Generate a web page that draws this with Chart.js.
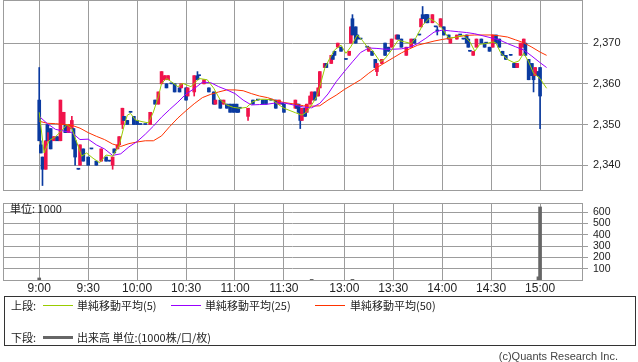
<!DOCTYPE html>
<html>
<head>
<meta charset="utf-8">
<title>intraday chart</title>
<script src="https://cdn.jsdelivr.net/npm/chart.js@4.4.1/dist/chart.umd.min.js"></script>
<style>
  body { margin: 0; background: #fff; }
  #page { position: relative; width: 638px; height: 362px; overflow: hidden; color: #222;
          font-family: "Noto Sans CJK JP", "Liberation Sans", sans-serif; }
  #priceChart { position: absolute; left: 0; top: 0; }
  #volChart { position: absolute; left: 0; top: 198px; }
  #unit { position: absolute; left: 10px; top: 201px; font-size: 11px; line-height: 14px; }
  #legend { position: absolute; left: 4px; top: 296px; width: 630px; height: 48px; border: 1px solid #333; }
  .lg { position: absolute; font-size: 11px; line-height: 14px; white-space: nowrap; }
  .ln { position: absolute; width: 30px; height: 1px; }
  #copy { position: absolute; right: 20px; top: 349px; font-size: 11px; line-height: 14px; color: #444;
          font-family: "Liberation Sans", sans-serif; }
</style>
</head>
<body>
<div id="page">
  <canvas id="priceChart" width="638" height="196"></canvas>
  <canvas id="volChart" width="638" height="100"></canvas>
  <div id="unit">単位: 1000</div>
  <div id="legend">
    <div class="lg" style="left:6px;top:1px">上段:</div>
    <div class="ln" style="left:38px;top:8px;background:#99cc00"></div>
    <div class="lg" style="left:72px;top:1px">単純移動平均(5)</div>
    <div class="ln" style="left:166px;top:8px;background:#9900ff"></div>
    <div class="lg" style="left:200px;top:1px">単純移動平均(25)</div>
    <div class="ln" style="left:310px;top:8px;background:#ff3300"></div>
    <div class="lg" style="left:345px;top:1px">単純移動平均(50)</div>
    <div class="lg" style="left:6px;top:33px">下段:</div>
    <div class="ln" style="left:38px;top:39px;height:3px;background:#666"></div>
    <div class="lg" style="left:72px;top:33px">出来高 単位:(1000株/口/枚)</div>
  </div>
  <div id="copy">(c)Quants Research Inc.</div>
</div>
<script>
// axis ticks
const tickTimes = ["9:00", "9:30", "10:00", "10:30", "11:00", "11:30", "13:00", "13:30", "14:00", "14:30", "15:00"];
const priceTicks = [2340, 2350, 2360, 2370];
const volTicks = [100, 200, 300, 400, 500, 600];

// candles (1 min)
const candleTimes = [
  "9:00","9:01","9:02","9:04","9:05","9:06","9:07","9:09","9:11","9:13",
  "9:15","9:16","9:18","9:20","9:21","9:22","9:24","9:25","9:27","9:30",
  "9:32","9:35","9:38","9:41","9:43","9:45","9:46","9:48","9:49","9:51",
  "9:52","9:54","9:56","9:58","10:00","10:02","10:05","10:08","10:11","10:13",
  "10:15","10:17","10:18","10:19","10:21","10:23","10:26","10:27","10:30","10:31",
  "10:35","10:37","10:38","10:41","10:44","10:47","10:48","10:51","10:53","10:55",
  "10:57","10:59","11:01","11:02","11:03","11:08","11:11","11:14","11:17","11:19",
  "11:22","11:25","11:27","11:29","11:30",
  "12:30","12:31","12:32","12:33","12:34","12:36","12:37","12:39","12:40","12:42",
  "12:44","12:45","12:48","12:49","12:52","12:53","12:54","12:56","12:58","13:01",
  "13:03","13:04","13:05","13:07","13:08","13:10","13:14","13:15","13:17","13:19",
  "13:20","13:23","13:25","13:27","13:29","13:32","13:33","13:35","13:38","13:41",
  "13:43","13:46","13:47","13:48","13:50","13:51","13:54","13:56","13:57","13:59",
  "14:01","14:04","14:05","14:09","14:11","14:13","14:15","14:16","14:17","14:19",
  "14:21","14:24","14:26","14:27","14:29","14:31","14:33","14:35","14:37","14:39",
  "14:42","14:44","14:45","14:46","14:48","14:50","14:51","14:53","14:55","14:56",
  "14:57","14:58","14:59","15:00"
];
const opens = [
  2356,2345,2342,2339,2350,2346,2349,2346,2347,2346,
  2350,2350,2348,2349,2349,2346,2339,2340,2344,2342,
  2344,2341,2341,2342,2341,2340,2344,2344,2345,2350,
  2352,2351,2353,2352,2351,2350,2350,2350,2356,2355,
  2360,2361,2360,2361,2360,2360,2359,2359,2359,2357,
  2358,2362,2362,2360,2359,2358,2355,2356,2355,2355,
  2355,2355,2355,2354,2354,2352,2356,2356,2356,2356,
  2356,2356,2355,2355,2355,
  2354,2355,2355,2354,2351,2354,2353,2355,2356,2358,
  2357,2359,2364,2365,2365,2367,2368,2369,2369,2366,
  2367,2370,2376,2374,2372,2371,2369,2368,2368,2366,
  2363,2365,2370,2369,2369,2371,2372,2371,2367,2369,
  2371,2372,2374,2377,2377,2377,2375,2374,2373,2374,
  2374,2372,2370,2371,2372,2371,2372,2371,2368,2367,
  2369,2371,2370,2370,2369,2369,2372,2371,2368,2367,
  2367,2365,2365,2364,2367,2369,2370,2366,2365,2363,
  2362,2362,2363,2364
];
const highs = [
  2364,2346,2342,2346,2350,2348,2349,2347,2347,2356,
  2353,2350,2350,2352,2349,2346,2339,2345,2344,2342,
  2344,2341,2344,2342,2341,2342,2344,2345,2347,2354,
  2352,2351,2353,2352,2351,2350,2350,2353,2356,2358,
  2363,2362,2360,2362,2360,2360,2359,2360,2359,2359,
  2362,2363,2362,2361,2359,2358,2356,2356,2356,2355,
  2355,2355,2355,2354,2354,2354,2356,2356,2356,2356,
  2356,2356,2356,2355,2355,
  2356,2355,2355,2354,2354,2354,2355,2357,2358,2358,
  2359,2363,2365,2365,2367,2367,2368,2370,2369,2366,
  2368,2374,2377,2374,2372,2371,2369,2369,2368,2366,
  2365,2366,2370,2369,2371,2372,2372,2371,2369,2371,
  2371,2372,2376,2379,2377,2377,2377,2374,2374,2376,
  2374,2372,2371,2372,2372,2371,2372,2371,2368,2368,
  2371,2371,2370,2370,2369,2372,2372,2371,2368,2367,
  2367,2365,2365,2365,2370,2371,2370,2366,2365,2363,
  2364,2363,2363,2364
];
const lows = [
  2346,2343,2335,2339,2346,2346,2344,2346,2346,2346,
  2350,2348,2348,2349,2344,2340,2339,2340,2341,2340,
  2344,2340,2341,2341,2341,2339,2343,2344,2345,2349,
  2351,2350,2353,2350,2350,2350,2350,2350,2355,2355,
  2360,2361,2359,2361,2360,2358,2358,2359,2356,2357,
  2357,2361,2362,2360,2358,2355,2355,2354,2355,2354,
  2353,2353,2353,2353,2354,2351,2355,2356,2355,2355,
  2356,2354,2355,2355,2353,
  2354,2354,2353,2349,2351,2352,2353,2355,2356,2356,
  2357,2359,2364,2364,2365,2366,2367,2369,2368,2366,
  2367,2370,2372,2370,2371,2371,2369,2368,2367,2364,
  2362,2365,2367,2368,2369,2371,2371,2369,2367,2369,
  2370,2372,2374,2376,2375,2375,2375,2374,2372,2374,
  2372,2371,2370,2371,2372,2371,2370,2369,2368,2367,
  2369,2370,2369,2370,2368,2369,2370,2369,2367,2366,
  2367,2364,2364,2364,2367,2369,2367,2361,2362,2358,
  2362,2362,2362,2349
];
const closes = [
  2346,2343,2339,2346,2346,2348,2344,2347,2346,2356,
  2353,2348,2350,2351,2344,2342,2339,2345,2341,2340,
  2344,2340,2344,2341,2341,2342,2343,2345,2347,2354,
  2351,2350,2353,2350,2350,2350,2350,2353,2355,2358,
  2363,2362,2359,2362,2360,2358,2358,2360,2356,2359,
  2362,2361,2362,2361,2358,2355,2356,2354,2356,2354,
  2353,2353,2353,2353,2354,2354,2355,2356,2355,2355,
  2356,2354,2356,2355,2353,
  2356,2354,2353,2351,2354,2352,2355,2357,2358,2356,
  2359,2363,2365,2364,2367,2366,2367,2370,2368,2366,
  2368,2374,2372,2370,2371,2371,2369,2369,2367,2364,
  2365,2366,2367,2368,2371,2372,2371,2369,2369,2371,
  2370,2372,2376,2376,2375,2375,2377,2374,2373,2376,
  2372,2371,2371,2372,2372,2371,2370,2369,2368,2368,
  2371,2370,2369,2370,2368,2372,2370,2369,2367,2366,
  2367,2364,2364,2365,2370,2371,2367,2361,2362,2361,
  2364,2363,2362,2357
];

// simple moving average (5)
const sma5Times = [
  "9:00","9:03","9:06","9:10","9:14","9:17","9:20","9:24","9:26","9:29",
  "9:33","9:37","9:41","9:45","9:49","9:52","9:54","9:56","9:59","10:03",
  "10:07","10:10","10:13","10:15","10:18","10:21","10:25","10:28","10:33","10:38",
  "10:43","10:47","10:51","10:55","10:59","11:03","11:07","11:11","11:15","11:19",
  "11:23","11:27","11:30",
  "12:30","12:34","12:37","12:40","12:43","12:45","12:48","12:51","12:54","12:58",
  "13:01","13:04","13:08","13:11","13:14","13:17","13:22","13:25","13:29","13:33",
  "13:37","13:41","13:44","13:48","13:52","13:56","14:00","14:04","14:09","14:13",
  "14:17","14:20","14:23","14:27","14:31","14:33","14:36","14:40","14:44","14:47",
  "14:50","14:53","14:56","15:00","15:04"
];
const sma5 = [
  2353.0,2343.0,2346.0,2347.0,2348.6,2350.0,2349.0,2344.5,2342.2,2343.0,
  2341.7,2340.6,2342.5,2342.2,2344.8,2349.6,2352.3,2352.7,2351.1,2350.7,
  2350.4,2353.1,2356.8,2360.1,2361.3,2360.5,2359.3,2360.1,2359.3,2361.3,
  2361.0,2358.9,2356.0,2354.8,2354.2,2354.0,2354.2,2355.6,2356.2,2356.2,
  2356.0,2354.8,2354.0,
  2352.9,2352.3,2353.1,2354.8,2356.8,2359.3,2363.8,2366.2,2368.3,2369.5,
  2367.5,2369.1,2372.0,2370.7,2369.1,2368.3,2365.4,2366.2,2368.3,2370.7,
  2370.3,2369.9,2371.4,2374.4,2376.1,2375.2,2373.6,2371.2,2371.5,2372.0,
  2370.3,2368.0,2369.7,2369.9,2370.3,2370.0,2367.5,2366.0,2365.2,2365.6,
  2367.5,2365.4,2362.6,2361.3,2358.9
];

// simple moving averages (25, 50), read every 5 min
const maTimes = [
  "9:00","9:05","9:10","9:15","9:20","9:25","9:30","9:35","9:40","9:45",
  "9:50","9:55","10:00","10:05","10:10","10:15","10:20","10:25","10:30","10:35",
  "10:40","10:45","10:50","10:55","11:00","11:05","11:10","11:15","11:20","11:25",
  "11:30",
  "12:30","12:35","12:40","12:45","12:50","12:55","13:00","13:05","13:10","13:15",
  "13:20","13:25","13:30","13:35","13:40","13:45","13:50","13:55","14:00","14:05",
  "14:10","14:15","14:20","14:25","14:30","14:35","14:40","14:45","14:50","14:55",
  "15:00","15:04"
];
const sma25 = [
  2352.0,2350.2,2348.8,2348.4,2348.0,2346.3,2346.4,2345.0,2344.0,2342.4,
  2342.8,2344.5,2345.8,2347.6,2349.6,2351.8,2353.7,2355.5,2357.5,2358.8,
  2360.4,2360.3,2359.3,2358.5,2357.6,2356.0,2354.8,2354.9,2355.0,2355.3,
  2355.3,
  2354.7,2354.3,2354.1,2355.2,2357.5,2360.5,2363.0,2365.4,2367.7,2368.8,
  2368.7,2368.5,2368.5,2368.6,2369.0,2369.9,2371.2,2372.7,2373.2,2373.0,
  2372.8,2372.6,2372.3,2371.8,2371.3,2370.8,2369.9,2369.1,2368.3,2366.8,
  2365.2,2364.0
];
const sma50 = [
  2350.8,2350.3,2350.2,2350.0,2349.8,2349.1,2348.0,2347.1,2346.3,2345.2,
  2344.6,2345.3,2345.7,2346.0,2346.0,2347.2,2349.5,2351.6,2353.4,2355.1,
  2356.6,2357.4,2358.0,2358.5,2358.5,2358.3,2357.6,2357.0,2356.6,2355.9,
  2355.4,
  2355.0,2354.6,2354.5,2354.6,2356.0,2357.2,2358.6,2359.8,2361.0,2362.6,
  2364.0,2365.2,2366.4,2367.6,2368.6,2369.5,2370.0,2370.5,2370.9,2371.2,
  2371.6,2371.9,2372.0,2372.0,2372.0,2371.8,2371.5,2370.8,2370.1,2369.0,
  2367.8,2367.0
];

// volume (1000 shares)
const volTimes = ["9:00", "12:40", "13:05", "14:59", "15:00"];
const volumes = [18, 6, 6, 28, 645];

const GRID = '#9c9c9c';
const TEXT = '#222';
const UP = '#f0144b';
const DOWN = '#0a3aa0';
const NUM_FONT = '"Liberation Sans", "DejaVu Sans", sans-serif';

// minutes since 9:00, lunch break squeezed to a short gap
function toSlot(t) {
  const [h, m] = t.split(':').map(Number);
  const min = h * 60 + m;
  if (min <= 11 * 60 + 30) return min - 9 * 60;
  return 157 + (min - (12 * 60 + 30));
}

const tickSlots = tickTimes.map(toSlot);
const X_MIN = -22.2, X_MAX = 332.7;

function candleColor(i) {
  return closes[i] > opens[i] ? UP : DOWN;
}

function xAxis(showLabels) {
  return {
    type: 'linear', min: X_MIN, max: X_MAX, offset: false,
    afterBuildTicks: s => { s.ticks = tickSlots.map(v => ({ value: v })); },
    afterFit: s => { s.height = showLabels ? 18 : 0; s.paddingLeft = 0; s.paddingRight = 0; },
    grid: { color: GRID, lineWidth: 1, drawTicks: false, offset: false },
    border: { display: false },
    ticks: {
      display: showLabels, color: TEXT, padding: 1, maxRotation: 0, autoSkip: false,
      font: { family: NUM_FONT, size: 12 },
      callback: (v, i) => tickTimes[i]
    }
  };
}

function yAxis(ticks, min, max, fmt, size) {
  return {
    type: 'linear', position: 'right', min: min, max: max,
    afterBuildTicks: s => { s.ticks = ticks.map(v => ({ value: v })); },
    afterFit: s => { s.width = 56; s.paddingTop = 0; s.paddingBottom = 0; },
    grid: { color: GRID, lineWidth: 1, drawTicks: true, tickLength: 6, tickColor: GRID },
    border: { display: false },
    ticks: { color: TEXT, padding: 5, autoSkip: false, font: { family: NUM_FONT, size: size }, callback: fmt }
  };
}

// gray frame around the plot area
const framePlugin = {
  id: 'frame',
  beforeDatasetsDraw(chart) {
    const { ctx, chartArea: a } = chart;
    ctx.save();
    ctx.strokeStyle = GRID;
    ctx.lineWidth = 1;
    ctx.strokeRect(Math.round(a.left) + 0.5, Math.round(a.top) + 0.5,
      Math.round(a.right - a.left), Math.round(a.bottom - a.top));
    ctx.restore();
  }
};

const common = {
  responsive: false,
  animation: false,
  devicePixelRatio: 1,
  events: [],
  plugins: { legend: { display: false }, tooltip: { enabled: false } }
};

function lineSet(times, values, color, order) {
  return {
    type: 'line',
    data: times.map((t, i) => ({ x: toSlot(t), y: values[i] })),
    borderColor: color, borderWidth: 1, pointRadius: 0, tension: 0, order: order
  };
}

new Chart(document.getElementById('priceChart'), {
  type: 'line',
  data: {
    datasets: [
      lineSet(sma5Times, sma5, '#99cc00', 1),
      lineSet(maTimes, sma25, '#9900ff', 2),
      lineSet(maTimes, sma50, '#ff3300', 3),
      {
        type: 'bar',
        data: candleTimes.map((t, i) => ({ x: toSlot(t), y: [opens[i], closes[i]] })),
        backgroundColor: c => candleColor(c.dataIndex),
        barThickness: 3, minBarLength: 1, grouped: false, borderWidth: 0, order: 4
      },
      {
        type: 'bar',
        data: candleTimes.map((t, i) => ({ x: toSlot(t), y: [lows[i], highs[i]] })),
        backgroundColor: c => candleColor(c.dataIndex),
        barThickness: 1, grouped: false, borderWidth: 0, order: 5
      }
    ]
  },
  options: Object.assign({}, common, {
    layout: { padding: { left: 3, right: 0, top: 0, bottom: 6 } },
    scales: {
      x: xAxis(false),
      y: yAxis(priceTicks, 2333.9, 2380.6, v => v.toLocaleString('en-US'), 11)
    }
  }),
  plugins: [framePlugin]
});

new Chart(document.getElementById('volChart'), {
  type: 'line',
  data: {
    datasets: [{
      type: 'bar',
      data: volTimes.map((t, i) => ({ x: toSlot(t), y: volumes[i] })),
      backgroundColor: '#666', barThickness: 3, grouped: false, borderWidth: 0
    }]
  },
  options: Object.assign({}, common, {
    layout: { padding: { left: 3, right: 0, top: 5, bottom: 0 } },
    scales: {
      x: xAxis(true),
      y: yAxis(volTicks, 0, 680, v => String(v), 10.5)
    }
  }),
  plugins: [framePlugin]
});
</script>
</body>
</html>
